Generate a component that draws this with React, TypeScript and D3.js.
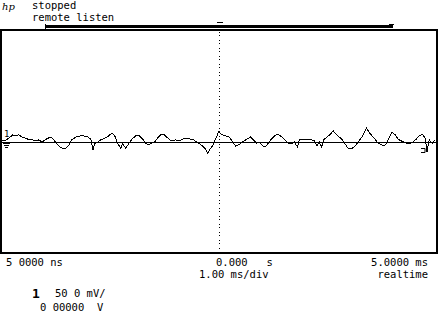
import React from "react";
import * as d3 from "d3";

// time in ms, voltage in mV (channel 1, 50 mV/div)
const timeMs = [
  -5.0, -4.93, -4.86, -4.79, -4.73, -4.66, -4.59, -4.52, -4.43, -4.36, -4.27, -4.2, -4.13, -4.06, -3.99, -3.92,
  -3.86, -3.79, -3.72, -3.65, -3.58, -3.51, -3.44, -3.38, -3.28, -3.19, -3.1, -3.01, -2.94, -2.89, -2.85, -2.78,
  -2.71, -2.62, -2.53, -2.46, -2.39, -2.32, -2.25, -2.21, -2.14, -2.07, -2.0, -1.91, -1.82, -1.75, -1.68, -1.61,
  -1.54, -1.48, -1.41, -1.34, -1.27, -1.2, -1.13, -1.06, -1.0, -0.93, -0.86, -0.79, -0.72, -0.65, -0.58, -0.51,
  -0.45, -0.38, -0.31, -0.26, -0.22, -0.15, -0.08, -0.01, 0.06, 0.15, 0.24, 0.31, 0.38, 0.45, 0.54, 0.63,
  0.72, 0.79, 0.86, 0.93, 1.0, 1.06, 1.13, 1.2, 1.27, 1.34, 1.41, 1.5, 1.59, 1.66, 1.73, 1.8,
  1.84, 1.93, 2.02, 2.12, 2.19, 2.25, 2.3, 2.35, 2.41, 2.48, 2.55, 2.62, 2.69, 2.76, 2.83, 2.89,
  2.96, 3.03, 3.1, 3.17, 3.24, 3.31, 3.38, 3.44, 3.51, 3.58, 3.65, 3.72, 3.79, 3.86, 3.92, 3.97,
  4.04, 4.11, 4.18, 4.24, 4.31, 4.38, 4.45, 4.52, 4.59, 4.66, 4.73, 4.77, 4.82, 4.89, 4.95,
];
const voltageMv = [
  1, 1, 4, 8, 12, 10, 12, 8, 6, 3, 3, 1, 3, -1, 3, 6,
  8, 3, -4, -10, -12, -12, -6, 3, 8, 10, 10, 8, 4, -15, -4, -1,
  3, 6, 10, 15, 10, -4, -12, -4, -12, -4, 4, 10, 10, 4, -3, -6,
  -3, -1, 6, 12, 13, 8, 3, 1, 3, 1, 3, 6, 6, 4, 3, -1,
  -4, -8, -13, -21, -15, -8, 4, 17, 13, 10, 8, -1, -8, -6, -1, 4,
  8, 3, -3, -1, -8, -10, -3, 4, 10, 13, 10, 4, -3, -4, -1, -10,
  3, 4, 4, 3, 1, -8, -1, -10, 4, 8, 13, 19, 13, 8, 3, -4,
  -12, -13, -10, -3, 4, 12, 24, 17, 10, 4, -3, -6, -8, -1, 10, 17,
  12, 4, 1, -1, -3, -4, -1, 4, 10, 13, 6, -19, 3, -3, 3,
];

const timeDomain = [-5, 5];
const voltDomain = [-200, 200];

const FRAME = { left: 1, right: 437, top: 30, bottom: 253 };
const mono = "'DejaVu Sans Mono', 'Liberation Mono', monospace";

export default function App() {
  const x = d3.scaleLinear().domain(timeDomain).range([FRAME.left, FRAME.right]);
  const y = d3.scaleLinear().domain(voltDomain).range([FRAME.bottom, FRAME.top]);
  const pts: [number, number][] = timeMs.map((t, i) => [t, voltageMv[i]]);
  const line = d3
    .line<[number, number]>()
    .x((d) => x(d[0]))
    .y((d) => y(d[1]));
  const cx = Math.round(x(0)) + 0.5;
  const cy = Math.round(y(0)) + 0.5;

  return (
    <svg
      width={439}
      height={336}
      style={{ position: "absolute", left: 0, top: 0, background: "#fff" }}
    >
      {/* header */}
      <text x={2} y={10} fontFamily="'DejaVu Serif', serif" fontStyle="italic" fontSize={10}>
        hp
      </text>
      <text x={32} y={9} fontFamily={mono} fontSize={10.5}>
        stopped
      </text>
      <text x={32} y={21} fontFamily={mono} fontSize={10.5}>
        remote listen
      </text>
      {/* memory bar */}
      <rect x={46} y={25} width={347} height={3} fill="#000" />
      <line x1={45.5} x2={45.5} y1={24} y2={29} stroke="#000" />
      <line x1={217} x2={223} y1={22.5} y2={22.5} stroke="#000" />
      <line x1={389} x2={394} y1={24.5} y2={24.5} stroke="#000" />

      {/* frame */}
      <rect
        x={FRAME.left}
        y={FRAME.top}
        width={FRAME.right - FRAME.left}
        height={FRAME.bottom - FRAME.top}
        fill="none"
        stroke="#000"
        strokeWidth={2}
      />
      {/* center dotted graticule */}
      <line
        x1={cx}
        x2={cx}
        y1={FRAME.top + 2}
        y2={FRAME.bottom - 2}
        stroke="#000"
        strokeWidth={1}
        strokeDasharray="1,2,1,4"
        shapeRendering="crispEdges"
      />
      {/* zero level line */}
      <line
        x1={FRAME.left}
        x2={FRAME.right}
        y1={cy}
        y2={cy}
        stroke="#000"
        strokeWidth={1}
        shapeRendering="crispEdges"
      />
      {/* trace */}
      <path
        d={line(pts) || ""}
        fill="none"
        stroke="#000"
        strokeWidth={1}
        shapeRendering="crispEdges"
      />

      {/* channel marker and ground */}
      <text x={4} y={137} fontFamily={mono} fontSize={9}>
        1
      </text>
      <path d="M3,143.5 h7 M4,145.5 h5 M5,147.5 h3" stroke="#000" strokeWidth={1} />
      {/* trigger marker right */}
      <path d="M421,148.5 h4 v4 h-4" fill="none" stroke="#000" strokeWidth={1} />

      {/* bottom labels */}
      <text x={6} y={266} fontFamily={mono} fontSize={10.5}>
        5 0000 ns
      </text>
      <text x={216} y={266} fontFamily={mono} fontSize={10.5} xmlSpace="preserve">
        0.000   s
      </text>
      <text x={428} y={266} fontFamily={mono} fontSize={10.5} textAnchor="end">
        5.0000 ms
      </text>
      <text x={199} y={278} fontFamily={mono} fontSize={10.5}>
        1.00 ms/div
      </text>
      <text x={428} y={278} fontFamily={mono} fontSize={10.5} textAnchor="end">
        realtime
      </text>
      <text x={32} y={298} fontFamily={mono} fontSize={13} fontWeight="bold">
        1
      </text>
      <text x={55} y={297} fontFamily={mono} fontSize={10.5}>
        50 0 mV/
      </text>
      <text x={40} y={311} fontFamily={mono} fontSize={10.5} xmlSpace="preserve">
        0 00000  V
      </text>
    </svg>
  );
}
